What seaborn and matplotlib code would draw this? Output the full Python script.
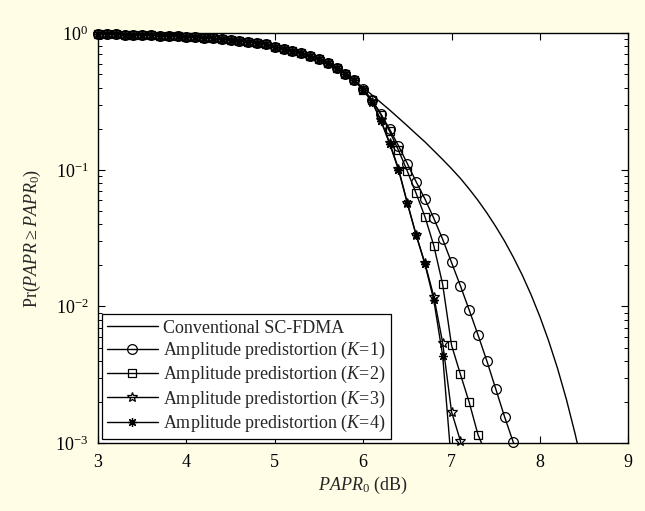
import numpy as np
import pandas as pd
import matplotlib
matplotlib.use("Agg")
import matplotlib.pyplot as plt
from matplotlib.lines import Line2D
import seaborn as sns

# ------------------------------------------
# Daten
# ------------------------------------------
x_common = [3.0, 3.1, 3.2, 3.3, 3.4, 3.5, 3.6, 3.7, 3.8, 3.9,
            4.0, 4.1, 4.2, 4.3, 4.4, 4.5, 4.6, 4.7, 4.8, 4.9,
            5.0, 5.1, 5.2, 5.3, 5.4, 5.5, 5.6, 5.7, 5.8, 5.9]
p_common = [0.985, 0.983, 0.981, 0.978, 0.975, 0.971, 0.967, 0.962, 0.956, 0.950,
            0.943, 0.935, 0.926, 0.916, 0.905, 0.893, 0.879, 0.864, 0.848, 0.830,
            0.794, 0.771, 0.745, 0.715, 0.681, 0.643, 0.601, 0.555, 0.505, 0.452]

x_conv_tail = [6.0, 6.1, 6.2, 6.3, 6.4, 6.5, 6.6, 6.7, 6.8, 6.9, 7.0, 7.1, 7.2, 7.3,
               7.4, 7.5, 7.6, 7.7, 7.8, 7.9, 8.0, 8.1, 8.2, 8.3, 8.4, 8.5]
p_conv_tail = [0.400, 0.353, 0.311, 0.274, 0.240, 0.210, 0.183, 0.160, 0.138, 0.119,
               0.102, 0.0867, 0.0724, 0.0597, 0.0484, 0.0385, 0.0301, 0.0229, 0.0170,
               0.0122, 0.00843, 0.00558, 0.00352, 0.00209, 0.00116, 0.000604]

x_k1_tail = [6.0, 6.1, 6.2, 6.3, 6.4, 6.5, 6.6, 6.7, 6.8, 6.9, 7.0, 7.1, 7.2, 7.3,
             7.4, 7.5, 7.6, 7.7, 7.8]
p_k1_tail = [0.389, 0.325, 0.257, 0.198, 0.150, 0.111, 0.0817, 0.0611, 0.0441, 0.0310,
             0.0210, 0.0142, 0.00942, 0.00618, 0.00399, 0.00250, 0.00156, 0.00101, 0.00063]

x_k2_tail = [6.0, 6.1, 6.2, 6.3, 6.4, 6.5, 6.6, 6.7, 6.8, 6.9, 7.0, 7.1, 7.2, 7.3, 7.4]
p_k2_tail = [0.387, 0.324, 0.254, 0.191, 0.139, 0.0978, 0.0672, 0.0453, 0.0278, 0.0145,
             0.00522, 0.00320, 0.00199, 0.00115, 0.00081]

x_k3_tail = [6.0, 6.1, 6.2, 6.3, 6.4, 6.5, 6.6, 6.7, 6.8, 6.9, 7.0, 7.1, 7.2]
p_k3_tail = [0.385, 0.316, 0.232, 0.158, 0.102, 0.0575, 0.0333, 0.0207, 0.0118, 0.00542,
             0.00170, 0.00104, 0.00050]

x_k4_tail = [6.0, 6.1, 6.2, 6.3, 6.4, 6.5, 6.6, 6.7, 6.8, 6.9, 7.0]
p_k4_tail = [0.385, 0.316, 0.229, 0.155, 0.100, 0.0568, 0.0333, 0.0203, 0.0111, 0.00436,
             0.00070]

labels = ["Conventional SC-FDMA",
          "Amplitude predistortion ($K$=1)",
          "Amplitude predistortion ($K$=2)",
          "Amplitude predistortion ($K$=3)",
          "Amplitude predistortion ($K$=4)"]

# ------------------------------------------
# Stil
# ------------------------------------------
sns.set_style("ticks")
plt.rcParams["font.family"] = ["Liberation Serif", "DejaVu Serif"]
plt.rcParams["mathtext.fontset"] = "custom"
plt.rcParams["mathtext.rm"] = "Liberation Serif"
plt.rcParams["mathtext.it"] = "Liberation Serif:italic"
plt.rcParams["mathtext.bf"] = "Liberation Serif:bold"

bg = "#fffde6"
fig = plt.figure(figsize=(6.45, 5.11), dpi=100, facecolor=bg)
ax = fig.add_axes([0.152, 0.133, 0.822, 0.802])
ax.set_facecolor("white")

series = [
    (x_conv_tail, p_conv_tail, None, {}),
    (x_k1_tail, p_k1_tail, "o", dict(markersize=7, markerfacecolor="none")),
    (x_k2_tail, p_k2_tail, "s", dict(markersize=5.5, markerfacecolor="none")),
    (x_k3_tail, p_k3_tail, "*", dict(markersize=7, markerfacecolor="none")),
    (x_k4_tail, p_k4_tail, (8, 2, 0), dict(markersize=6.5)),
]

handles = []
for (xt, pt, mk, kw), lab in zip(series, labels):
    df = pd.DataFrame({"x": x_common + xt, "p": p_common + pt})
    # Linie (abgeschnitten an der Achse)
    sns.lineplot(data=df, x="x", y="p", ax=ax, color="black", linewidth=1.0)
    if mk is not None:
        # Marker nicht abschneiden (wie MATLAB)
        dm = df[df["p"] >= 9.5e-4]
        sns.lineplot(data=dm, x="x", y="p", ax=ax, color="black", linestyle="",
                     marker=mk, markeredgecolor="black", markeredgewidth=0.9,
                     clip_on=False, **kw)
    handles.append(Line2D([], [], color="black", linewidth=1.0, marker=mk,
                          markeredgecolor="black", markeredgewidth=0.9, **kw))

ax.set_yscale("log")
ax.set_xlim(3, 9)
ax.set_ylim(1e-3, 1)
ax.set_xticks([3, 4, 5, 6, 7, 8, 9])
ax.set_xticklabels(["3", "4", "5", "6", "7", "8", "9"])

ax.tick_params(axis="both", which="both", direction="in", top=True, right=True,
               labelsize=13, colors="black")
ax.tick_params(axis="x", which="major", length=5, width=0.8, pad=8)
ax.tick_params(axis="y", which="major", length=5, width=0.8, pad=7)
ax.tick_params(axis="y", which="minor", length=3, width=0.7)
for s in ax.spines.values():
    s.set_color("black")
    s.set_linewidth(1.0)

ax.set_xlabel(r"$\mathit{PAPR}_{\mathrm{0}}$ (dB)", fontsize=13, labelpad=3)
ax.set_ylabel(r"Pr($\mathit{PAPR}\geq\mathit{PAPR}_{\mathrm{0}}$)", fontsize=13, labelpad=9)

leg = ax.legend(handles, labels, loc="lower left", fontsize=13, frameon=True,
                fancybox=False, edgecolor="black", framealpha=1, handlelength=2.8,
                borderaxespad=0.2, labelspacing=0.18, handletextpad=0.3,
                borderpad=0.3)
leg.get_frame().set_linewidth(0.9)

fig.savefig("out.png", dpi=100, facecolor=bg)
